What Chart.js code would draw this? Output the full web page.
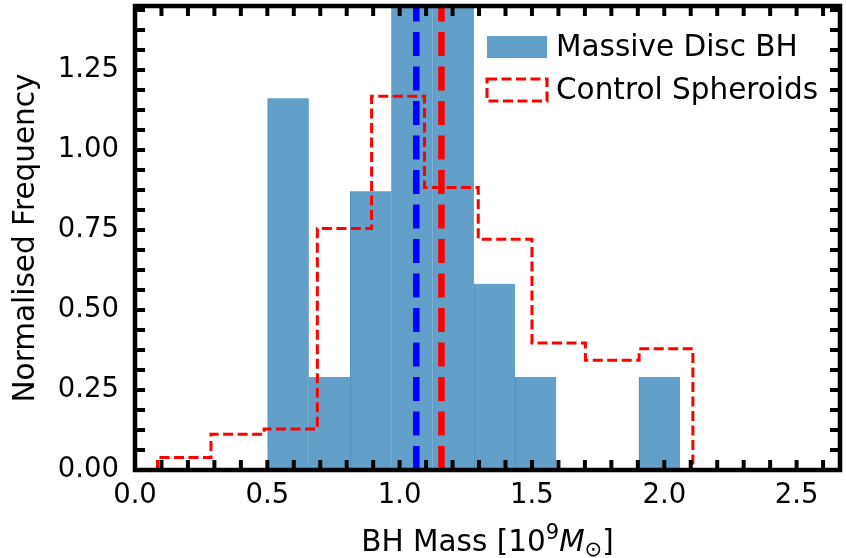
<!DOCTYPE html>
<html>
<head>
<meta charset="utf-8">
<script src="https://cdn.jsdelivr.net/npm/chart.js@4.4.0/dist/chart.umd.min.js"></script>
<style>
  html, body { margin: 0; padding: 0; background: #fff; }
  #wrap { width: 846px; height: 558px; }
</style>
</head>
<body>
<div id="wrap"><canvas id="histCanvas" width="846" height="558"></canvas></div>
<script>
// Massive Disc BH: density histogram, bin edges + heights
const discEdges = [0.501, 0.657, 0.813, 0.969, 1.125, 1.281, 1.436, 1.592, 1.748, 1.904, 2.060];
const discHeights = [1.162, 0.291, 0.871, 1.456, 1.456, 0.582, 0.291, 0, 0, 0.291];
// Control Spheroids: step histogram
const controlEdges = [0.085, 0.287, 0.488, 0.689, 0.894, 1.094, 1.297, 1.500, 1.702, 1.905, 2.108];
const controlHeights = [0.039, 0.112, 0.128, 0.755, 1.168, 0.883, 0.721, 0.397, 0.343, 0.379];
// medians (vertical dashed lines)
const discMedian = 1.063;
const controlMedian = 1.158;

const seriesLabels = ["Massive Disc BH", "Control Spheroids"];
const xTicks = [0.0, 0.5, 1.0, 1.5, 2.0, 2.5];
const yTicks = [0.00, 0.25, 0.50, 0.75, 1.00, 1.25];
const xRange = [0, 2.664];
const yRange = [0, 1.45];
const xMinorStep = 0.1;
const yMinorStep = 0.0625;

const FONT = '"DejaVu Sans", sans-serif';
const barBlue = 'rgb(98, 160, 202)';
const LABEL_SIZE = 29.5;

Chart.defaults.font.family = FONT;
Chart.defaults.color = '#000';

const discBars = discHeights.map((h, i) => ({ x: (discEdges[i] + discEdges[i + 1]) / 2, y: h }));

const controlStep = [{ x: controlEdges[0], y: 0 }];
controlHeights.forEach((h, i) => controlStep.push({ x: controlEdges[i], y: h }));
controlStep.push({ x: controlEdges[controlEdges.length - 1], y: controlHeights[controlHeights.length - 1] });
controlStep.push({ x: controlEdges[controlEdges.length - 1], y: 0 });

// inward ticks on all four sides + thick frame
const frameTicks = {
  id: 'frameTicks',
  afterDatasetsDraw(chart) {
    const { ctx, chartArea: a, scales: { x, y } } = chart;
    const len = 10;
    ctx.save();
    ctx.strokeStyle = '#000';
    ctx.lineWidth = 4;
    ctx.beginPath();
    for (let v = xMinorStep; v < xRange[1]; v += xMinorStep) {
      const px = x.getPixelForValue(v);
      ctx.moveTo(px, a.bottom); ctx.lineTo(px, a.bottom - len);
      ctx.moveTo(px, a.top); ctx.lineTo(px, a.top + len);
    }
    for (let v = yMinorStep; v < yRange[1]; v += yMinorStep) {
      const py = y.getPixelForValue(v);
      ctx.moveTo(a.left, py); ctx.lineTo(a.left + len, py);
      ctx.moveTo(a.right, py); ctx.lineTo(a.right - len, py);
    }
    ctx.stroke();
    ctx.lineWidth = 4.5;
    ctx.strokeRect(a.left, a.top, a.width, a.height);
    ctx.restore();
  }
};

// legend box in the upper right, drawn from dataset labels
const insideLegend = {
  id: 'insideLegend',
  afterDraw(chart) {
    const { ctx } = chart;
    const ds = chart.data.datasets;
    const px = 487, pw = 60, ph = 22, tx = 556;
    const rows = [47, 90];
    ctx.save();
    ctx.font = LABEL_SIZE + 'px ' + FONT;
    ctx.textAlign = 'left';
    ctx.textBaseline = 'middle';
    ctx.fillStyle = ds[0].backgroundColor;
    ctx.fillRect(px, rows[0] - ph / 2, pw, ph);
    ctx.fillStyle = '#000';
    ctx.fillText(ds[0].label, tx, rows[0] + 1);
    ctx.strokeStyle = ds[1].borderColor;
    ctx.lineWidth = ds[1].borderWidth;
    ctx.setLineDash(ds[1].borderDash);
    ctx.strokeRect(px, rows[1] - ph / 2, pw, ph);
    ctx.setLineDash([]);
    ctx.fillText(ds[1].label, tx, rows[1] + 1);
    ctx.restore();
  }
};

// x-axis title with superscript / italic / subscript parts
const xTitleParts = [
  { text: 'BH Mass [10', font: LABEL_SIZE + 'px ' + FONT, dy: 0 },
  { text: '9', font: '21px ' + FONT, dy: -12 },
  { text: 'M', font: 'italic ' + LABEL_SIZE + 'px ' + FONT, dy: 0 },
  { text: '\u2299', font: '21px ' + FONT, dy: 5 },
  { text: ']', font: LABEL_SIZE + 'px ' + FONT, dy: 0 }
];
const xTitle = {
  id: 'xTitle',
  afterDraw(chart) {
    const { ctx, chartArea: a } = chart;
    ctx.save();
    ctx.fillStyle = '#000';
    ctx.textAlign = 'left';
    ctx.textBaseline = 'alphabetic';
    let total = 0;
    xTitleParts.forEach(p => { ctx.font = p.font; total += ctx.measureText(p.text).width; });
    let cx = (a.left + a.right) / 2 - total / 2;
    const base = 551;
    xTitleParts.forEach(p => {
      ctx.font = p.font;
      ctx.fillText(p.text, cx, base + p.dy);
      cx += ctx.measureText(p.text).width;
    });
    ctx.restore();
  }
};

new Chart(document.getElementById('histCanvas'), {
  type: 'bar',
  data: {
    datasets: [
      {
        type: 'bar',
        label: seriesLabels[0],
        data: discBars,
        backgroundColor: barBlue,
        borderColor: 'rgb(76, 143, 192)',
        borderWidth: { left: 1, right: 0, top: 0, bottom: 0 },
        borderSkipped: false,
        barPercentage: 1,
        categoryPercentage: 1,
        order: 3
      },
      {
        type: 'line',
        label: seriesLabels[1],
        data: controlStep,
        stepped: 'before',
        borderColor: '#ff0000',
        borderWidth: 3,
        borderDash: [10, 4.5],
        fill: false,
        pointRadius: 0,
        order: 2
      },
      {
        type: 'line',
        label: 'disc median',
        data: [{ x: discMedian, y: yRange[0] }, { x: discMedian, y: yRange[1] }],
        borderColor: '#0000ff',
        borderWidth: 6.5,
        borderDash: [24, 10.5],
        pointRadius: 0,
        order: 1
      },
      {
        type: 'line',
        label: 'control median',
        data: [{ x: controlMedian, y: yRange[0] }, { x: controlMedian, y: yRange[1] }],
        borderColor: '#ff0000',
        borderWidth: 6.5,
        borderDash: [24, 10.5],
        pointRadius: 0,
        order: 1
      }
    ]
  },
  options: {
    responsive: false,
    animation: false,
    devicePixelRatio: 1,
    layout: { padding: { left: 0, right: 6, top: 6, bottom: 0 } },
    plugins: {
      legend: { display: false },
      tooltip: { enabled: false }
    },
    scales: {
      x: {
        type: 'linear',
        offset: false,
        min: xRange[0],
        max: xRange[1],
        grid: { display: false, drawTicks: false, offset: false },
        border: { display: false },
        afterBuildTicks: s => { s.ticks = xTicks.map(v => ({ value: v })); },
        afterFit: s => { s.height = 88; s.paddingLeft = 0; s.paddingRight = 0; },
        ticks: {
          padding: 9,
          maxRotation: 0,
          font: { size: 27.5 },
          callback: v => Number(v).toFixed(1)
        }
      },
      y: {
        type: 'linear',
        min: yRange[0],
        max: yRange[1],
        grid: { display: false, drawTicks: false },
        border: { display: false },
        afterBuildTicks: s => { s.ticks = yTicks.map(v => ({ value: v })); },
        afterFit: s => { s.width = 135; s.paddingTop = 0; s.paddingBottom = 0; },
        title: {
          display: true,
          text: 'Normalised Frequency',
          font: { size: LABEL_SIZE },
          padding: { top: 9, bottom: 0 }
        },
        ticks: {
          padding: 16,
          font: { size: 27.5 },
          callback: v => Number(v).toFixed(2)
        }
      }
    }
  },
  plugins: [frameTicks, insideLegend, xTitle]
});
</script>
</body>
</html>
